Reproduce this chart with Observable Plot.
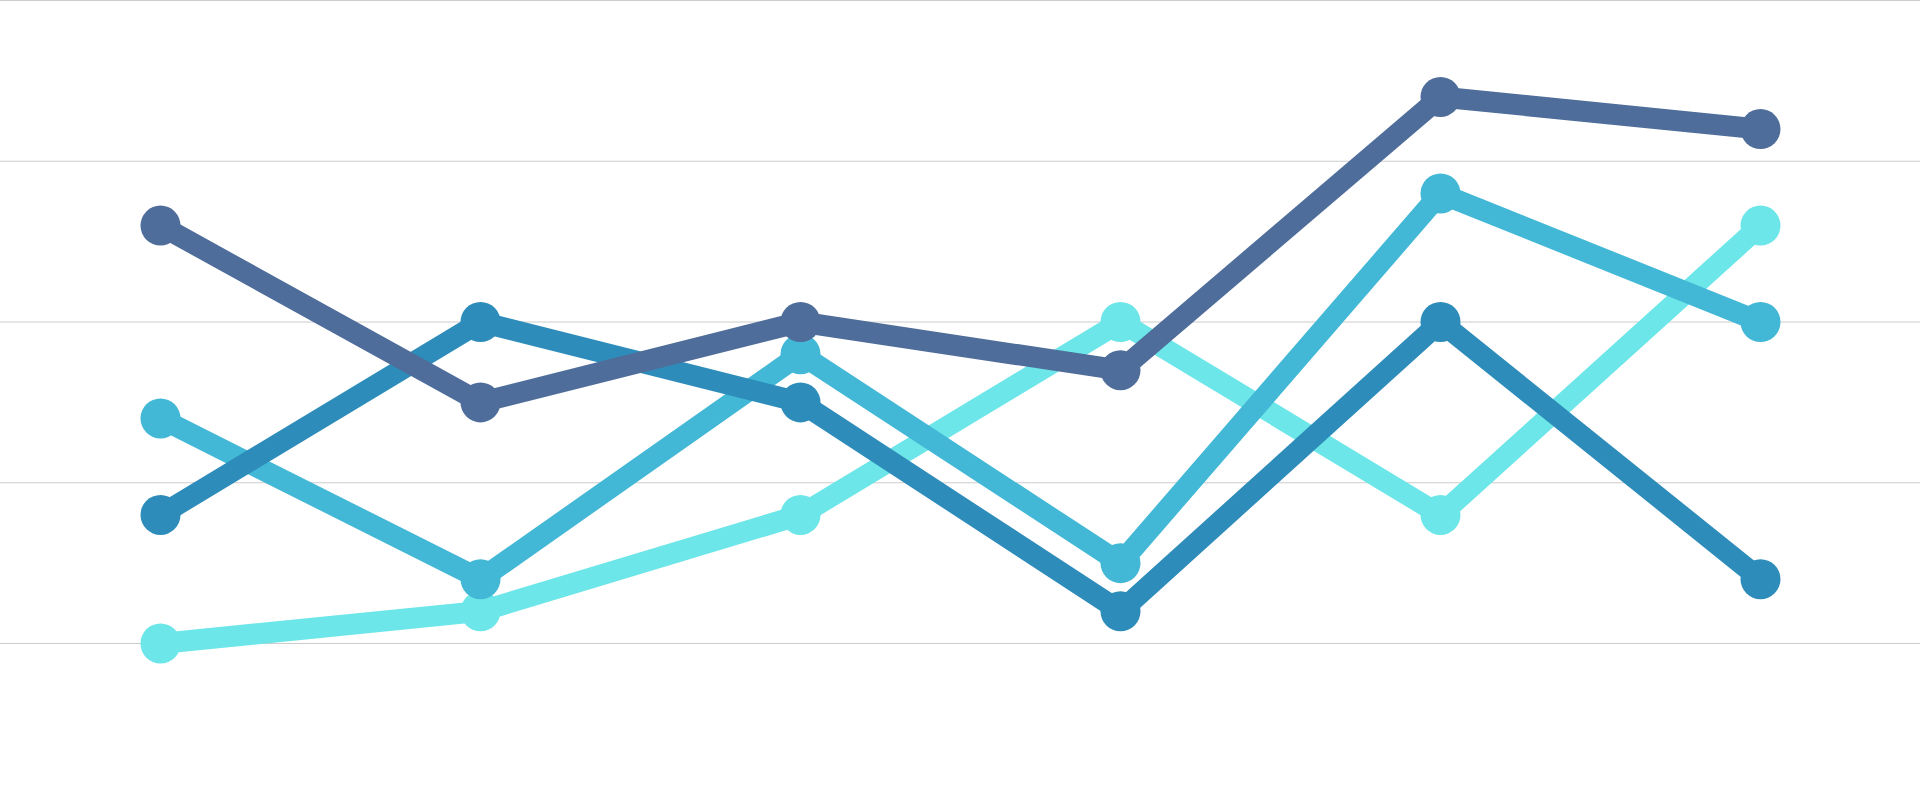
<!DOCTYPE html>
<html>
<head>
<meta charset="utf-8">
<script src="https://cdn.jsdelivr.net/npm/d3@7"></script>
<script src="https://cdn.jsdelivr.net/npm/@observablehq/plot@0.6"></script>
<style>
  html, body { margin: 0; padding: 0; background: #ffffff; }
  #chart svg { display: block; }
</style>
</head>
<body>
<div id="chart"></div>
<script>
const categories = ["1", "2", "3", "4", "5", "6"];
const yTicks = [0, 25, 50, 75, 100];

const seriesNames = ["Series 4", "Series 3", "Series 2", "Series 1"];
const seriesColors = ["#6ce6e8", "#42b8d6", "#2d8cba", "#4f6d9a"];

const series4 = [0, 5, 20, 50, 20, 65];
const series3 = [35, 10, 45, 12.5, 70, 50];
const series2 = [20, 50, 37.5, 5, 50, 10];
const series1 = [65, 37.5, 50, 42.5, 85, 80];

const seriesValues = [series4, series3, series2, series1];

const marks = [
  Plot.gridY(yTicks, { stroke: "#cccccc", strokeOpacity: 1, strokeWidth: 1 })
];

seriesValues.forEach((vals, i) => {
  const rows = categories.map((c, j) => ({ cat: c, value: vals[j], series: seriesNames[i] }));
  marks.push(
    Plot.line(rows, {
      x: "cat", y: "value",
      stroke: seriesColors[i], strokeWidth: 21,
      strokeLinejoin: "round", strokeLinecap: "round"
    }),
    Plot.dot(rows, {
      x: "cat", y: "value",
      r: 20, fill: seriesColors[i], stroke: "none"
    })
  );
});

const chart = Plot.plot({
  width: 1920,
  height: 800,
  marginTop: 0,
  marginBottom: 157,
  marginLeft: 0,
  marginRight: 0,
  style: { background: "#ffffff" },
  x: { type: "point", domain: categories, padding: 0.5, axis: null },
  y: { domain: [0, 100], axis: null },
  marks
});

document.getElementById("chart").appendChild(chart);
</script>
</body>
</html>
